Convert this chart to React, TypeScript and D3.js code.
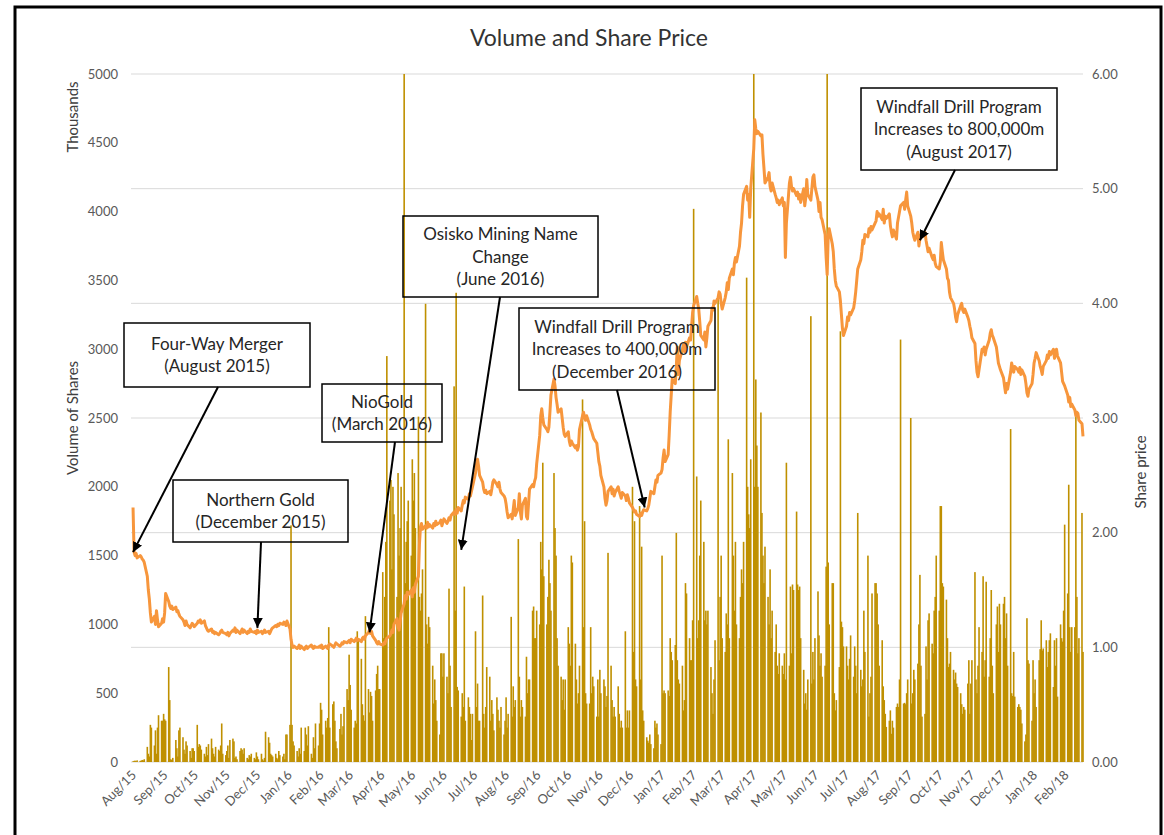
import React, { useEffect, useRef } from 'react';
import * as d3 from 'd3';

// month labels on the date axis (Aug 2015 .. Feb 2018)
const monthLabels = [
  'Aug/15', 'Sep/15', 'Oct/15', 'Nov/15', 'Dec/15',
  'Jan/16', 'Feb/16', 'Mar/16', 'Apr/16', 'May/16', 'Jun/16', 'Jul/16', 'Aug/16', 'Sep/16', 'Oct/16', 'Nov/16', 'Dec/16',
  'Jan/17', 'Feb/17', 'Mar/17', 'Apr/17', 'May/17', 'Jun/17', 'Jul/17', 'Aug/17', 'Sep/17', 'Oct/17', 'Nov/17', 'Dec/17',
  'Jan/18', 'Feb/18',
];

// daily volume (thousands of shares), one row per month, one value per trading day
const volumeK = [
  [5, 8, 10, 6, 12, 8, 10, 15, 12, 20, 110, 60, 40, 270, 250, 120, 230, 60, 250, 340, 300],
  [300, 350, 310, 300, 690, 450, 20, 15, 30, 160, 100, 40, 230, 250, 180, 90, 60, 150, 120, 80, 30, 100],
  [100, 80, 270, 110, 130, 120, 90, 60, 40, 110, 50, 130, 170, 100, 60, 40, 110, 90, 80, 120, 280, 60],
  [50, 80, 120, 30, 160, 170, 150, 30, 40, 20, 80, 100, 90, 60, 100, 30, 20, 50, 40, 60, 30],
  [20, 70, 40, 20, 60, 20, 10, 30, 220, 180, 140, 60, 50, 40, 60, 30, 20, 80, 50, 40, 60, 20, 200],
  [200, 270, 1720, 270, 150, 120, 80, 40, 100, 60, 250, 80, 250, 200, 120, 260, 60, 30, 180, 100, 280],
  [120, 280, 430, 380, 200, 300, 250, 320, 980, 250, 420, 440, 300, 150, 100, 240, 350, 200, 260, 400, 530],
  [450, 780, 560, 380, 250, 300, 280, 950, 900, 750, 420, 340, 300, 1060, 530, 360, 510, 480, 300, 520, 640, 700, 530],
  [530, 1380, 900, 1200, 1600, 2950, 1900, 2050, 1400, 2000, 1800, 1200, 2100, 1500, 1700, 2000, 5200, 1300, 1600, 1750, 1900],
  [1500, 2200, 1900, 2100, 1700, 2510, 1200, 1100, 1225, 1400, 3330, 1000, 860, 1055, 980, 700, 425, 600, 450, 300, 200, 790],
  [790, 620, 790, 620, 500, 1260, 700, 400, 2730, 1100, 3410, 546, 520, 330, 500, 400, 1275, 300, 470, 400, 350, 160],
  [350, 950, 400, 570, 300, 300, 1210, 350, 250, 400, 690, 620, 300, 450, 350, 230, 470, 380, 300, 250, 400],
  [200, 300, 470, 250, 350, 1055, 330, 550, 400, 450, 1620, 620, 330, 450, 400, 330, 765, 500, 600, 600, 1100, 1130, 900],
  [900, 1100, 1000, 1600, 1400, 2175, 1350, 1000, 1200, 1470, 1300, 1100, 2100, 1700, 1500, 900, 700, 620, 450, 600, 380, 600],
  [980, 860, 700, 1500, 1450, 860, 600, 425, 500, 700, 2635, 980, 1750, 500, 425, 425, 980, 500, 620, 550, 330],
  [600, 330, 670, 500, 600, 550, 400, 480, 1520, 700, 450, 330, 400, 330, 550, 350, 250, 300, 250, 950, 250, 375],
  [250, 375, 2000, 800, 1750, 600, 550, 1860, 600, 1565, 375, 300, 180, 155, 140, 200, 130, 100, 300, 250, 280, 200],
  [130, 1500, 500, 520, 500, 520, 480, 900, 800, 740, 850, 1665, 740, 600, 570, 700, 375, 450, 1300, 1225, 900, 740],
  [740, 1030, 4020, 2075, 900, 1030, 1500, 1900, 1600, 1030, 1100, 1000, 1100, 690, 500, 350, 600, 885, 3385, 740],
  [1200, 1500, 900, 800, 1080, 1000, 2345, 900, 2100, 1500, 1100, 1600, 1000, 900, 1200, 1400, 1300, 1600, 3520, 2000, 1800, 1700, 2200],
  [5400, 2000, 2780, 2300, 2000, 2540, 1810, 1500, 1300, 1565, 1200, 1000, 1400, 900, 1100, 800, 1000, 700, 640, 790],
  [700, 640, 790, 600, 2175, 700, 1275, 790, 1290, 1250, 1820, 1290, 1250, 1275, 900, 670, 425, 500, 380, 600, 3240, 570, 800],
  [600, 900, 1240, 920, 700, 790, 620, 700, 1420, 5400, 1450, 1000, 1300, 1300, 500, 375, 450, 690, 3130, 1020, 980, 840],
  [840, 700, 600, 750, 920, 620, 840, 700, 500, 1810, 670, 550, 600, 1100, 800, 1500, 330, 500, 620, 1225, 1300],
  [1300, 1225, 1000, 700, 885, 550, 450, 350, 255, 300, 375, 205, 300, 250, 400, 425, 400, 600, 3070, 425, 430, 420, 500],
  [600, 2500, 425, 500, 670, 600, 715, 1000, 1360, 700, 330, 350, 840, 600, 1030, 1080, 860, 790, 1100, 1200, 1500],
  [1100, 1860, 1860, 1300, 1275, 1180, 900, 690, 715, 800, 670, 600, 650, 570, 545, 500, 420, 350, 400, 380, 570, 740],
  [350, 570, 740, 1380, 600, 500, 700, 980, 800, 1350, 620, 740, 1310, 620, 900, 1250, 700, 500, 1000, 1130, 800, 1150],
  [1000, 1150, 1200, 900, 1080, 700, 2420, 500, 480, 800, 475, 400, 420, 400, 380, 280, 150, 200, 1045, 740, 715],
  [300, 740, 500, 600, 400, 740, 820, 1030, 810, 825, 885, 690, 800, 885, 935, 545, 885, 700, 900, 475, 1000, 900, 875],
  [1100, 1725, 1225, 2015, 980, 800, 980, 980, 2540, 1200, 790, 900, 1810, 800],
];

// daily closing share price ($), same layout as volumeK
const sharePrice = [
  [2.22, 1.83, 1.80, 1.82, 1.78, 1.80, 1.79, 1.77, 1.76, 1.74, 1.62, 1.50, 1.42, 1.30, 1.22, 1.27, 1.20, 1.32, 1.24, 1.18, 1.21],
  [1.25, 1.22, 1.30, 1.47, 1.40, 1.36, 1.34, 1.36, 1.33, 1.35, 1.31, 1.32, 1.29, 1.27, 1.24, 1.22, 1.19, 1.23, 1.20, 1.17, 1.19, 1.21],
  [1.20, 1.18, 1.21, 1.23, 1.22, 1.24, 1.21, 1.23, 1.19, 1.17, 1.15, 1.14, 1.16, 1.13, 1.14, 1.12, 1.13, 1.11, 1.12, 1.14, 1.15, 1.13],
  [1.12, 1.11, 1.13, 1.10, 1.12, 1.15, 1.14, 1.17, 1.13, 1.15, 1.12, 1.14, 1.16, 1.13, 1.15, 1.12, 1.14, 1.13, 1.16, 1.14, 1.13],
  [1.14, 1.12, 1.15, 1.13, 1.14, 1.12, 1.13, 1.15, 1.13, 1.14, 1.12, 1.14, 1.16, 1.17, 1.19, 1.18, 1.20, 1.19, 1.21, 1.20, 1.22, 1.21, 1.19],
  [1.23, 1.16, 1.07, 1.02, 1.00, 1.01, 0.99, 1.00, 1.02, 0.99, 1.01, 0.98, 1.00, 1.01, 0.99, 1.00, 1.02, 1.00, 0.99, 1.01, 1.00],
  [1.00, 1.01, 1.00, 1.02, 0.99, 1.01, 1.00, 0.99, 1.02, 1.03, 1.01, 1.00, 1.02, 1.04, 1.03, 1.01, 1.02, 1.04, 1.03, 1.05, 1.04],
  [1.05, 1.06, 1.04, 1.07, 1.05, 1.06, 1.08, 1.06, 1.07, 1.05, 1.08, 1.09, 1.07, 1.10, 1.13, 1.15, 1.12, 1.14, 1.10, 1.06, 1.04, 1.03, 1.05],
  [1.03, 1.02, 1.04, 1.03, 1.06, 1.08, 1.10, 1.12, 1.15, 1.13, 1.20, 1.25, 1.18, 1.15, 1.22, 1.30, 1.38, 1.45, 1.42, 1.48, 1.46],
  [1.50, 1.44, 1.52, 1.48, 1.55, 1.62, 1.90, 2.05, 2.08, 2.03, 2.06, 2.04, 2.09, 2.05, 2.07, 2.04, 2.08, 2.06, 2.10, 2.07, 2.09, 2.11],
  [2.06, 2.09, 2.12, 2.08, 2.10, 2.13, 2.11, 2.15, 2.18, 2.16, 2.20, 2.17, 2.22, 2.19, 2.24, 2.28, 2.26, 2.31, 2.29, 2.34, 2.32, 2.36],
  [2.40, 2.52, 2.60, 2.64, 2.58, 2.50, 2.44, 2.38, 2.35, 2.37, 2.34, 2.36, 2.33, 2.38, 2.44, 2.46, 2.42, 2.40, 2.44, 2.38, 2.35],
  [2.32, 2.30, 2.25, 2.18, 2.13, 2.16, 2.12, 2.20, 2.28, 2.15, 2.22, 2.34, 2.18, 2.12, 2.24, 2.30, 2.14, 2.12, 2.25, 2.38, 2.42, 2.40, 2.45],
  [2.48, 2.60, 2.85, 3.02, 3.08, 3.00, 2.94, 2.90, 2.88, 2.92, 3.05, 3.20, 3.34, 3.28, 3.18, 3.12, 3.05, 3.08, 3.00, 2.92, 2.86, 2.84],
  [2.88, 2.80, 2.76, 2.80, 2.78, 2.74, 2.76, 2.72, 2.75, 2.90, 3.02, 3.05, 3.00, 2.98, 3.02, 2.94, 2.90, 2.88, 2.85, 2.82, 2.78],
  [2.70, 2.62, 2.58, 2.50, 2.40, 2.30, 2.24, 2.28, 2.36, 2.40, 2.34, 2.38, 2.32, 2.35, 2.40, 2.36, 2.33, 2.30, 2.35, 2.32, 2.28, 2.33],
  [2.30, 2.26, 2.22, 2.20, 2.18, 2.19, 2.16, 2.14, 2.17, 2.15, 2.18, 2.20, 2.19, 2.21, 2.24, 2.30, 2.36, 2.34, 2.40, 2.46, 2.44, 2.50],
  [2.52, 2.55, 2.65, 2.72, 2.62, 2.68, 2.85, 3.05, 3.20, 3.34, 3.30, 3.45, 3.62, 3.38, 3.50, 3.60, 3.64, 3.58, 3.66, 3.62, 3.70, 3.68],
  [3.80, 3.92, 3.98, 4.06, 4.00, 3.95, 3.84, 3.72, 3.68, 3.75, 3.62, 3.70, 3.80, 3.85, 3.96, 3.94, 4.02, 4.00, 4.05, 4.10],
  [4.08, 4.00, 3.95, 4.05, 4.10, 4.18, 4.12, 4.22, 4.30, 4.25, 4.35, 4.40, 4.36, 4.50, 4.62, 4.70, 4.85, 4.95, 5.02, 4.90, 4.95, 4.75, 5.00],
  [5.35, 5.60, 5.52, 5.48, 5.50, 5.46, 5.47, 5.30, 5.18, 5.05, 5.10, 5.14, 5.02, 4.98, 5.05, 4.95, 4.92, 4.88, 4.90, 4.86],
  [4.92, 4.85, 4.88, 4.40, 4.70, 5.05, 5.10, 5.02, 4.98, 5.00, 4.94, 4.97, 4.91, 4.95, 4.88, 5.00, 4.85, 4.92, 5.08, 4.95, 4.90, 5.00, 5.10],
  [5.12, 5.02, 4.90, 4.80, 4.88, 4.75, 4.73, 4.60, 4.40, 4.25, 4.58, 4.65, 4.52, 4.45, 4.30, 4.20, 4.15, 4.10, 4.02, 3.90, 3.78, 3.72],
  [3.80, 3.88, 3.85, 3.92, 3.90, 3.96, 4.02, 4.10, 4.20, 4.30, 4.38, 4.45, 4.55, 4.52, 4.60, 4.58, 4.65, 4.62, 4.67, 4.64, 4.70],
  [4.72, 4.80, 4.76, 4.78, 4.73, 4.82, 4.70, 4.76, 4.74, 4.78, 4.68, 4.62, 4.58, 4.64, 4.56, 4.70, 4.75, 4.80, 4.85, 4.88, 4.82, 4.90, 4.97],
  [4.85, 4.76, 4.70, 4.62, 4.58, 4.55, 4.62, 4.50, 4.56, 4.60, 4.58, 4.62, 4.55, 4.50, 4.45, 4.48, 4.40, 4.38, 4.42, 4.35, 4.32],
  [4.30, 4.36, 4.53, 4.45, 4.38, 4.30, 4.22, 4.20, 4.10, 4.05, 4.00, 3.95, 3.88, 3.84, 3.90, 3.98, 4.00, 3.94, 3.92, 3.95, 3.88, 3.85],
  [3.80, 3.76, 3.70, 3.65, 3.50, 3.40, 3.36, 3.42, 3.60, 3.58, 3.62, 3.55, 3.60, 3.68, 3.74, 3.77, 3.72, 3.70, 3.62, 3.55, 3.48, 3.45],
  [3.42, 3.35, 3.28, 3.22, 3.30, 3.25, 3.40, 3.48, 3.44, 3.40, 3.45, 3.42, 3.40, 3.44, 3.38, 3.42, 3.36, 3.30, 3.22, 3.19, 3.25],
  [3.30, 3.38, 3.48, 3.52, 3.57, 3.50, 3.45, 3.42, 3.38, 3.45, 3.50, 3.55, 3.52, 3.58, 3.55, 3.60, 3.52, 3.57, 3.60, 3.54, 3.48, 3.40, 3.32],
  [3.30, 3.28, 3.20, 3.14, 3.18, 3.10, 3.12, 3.07, 3.02, 3.05, 3.04, 2.98, 2.95, 2.84],
];

const volumeTicks = [0, 500, 1000, 1500, 2000, 2500, 3000, 3500, 4000, 4500, 5000];
const priceTicks = [0, 1, 2, 3, 4, 5, 6];

// callout texts and the date/price each arrow points at
const noteLines = [
  ['Four-Way Merger', '(August 2015)'],
  ['Northern Gold', '(December 2015)'],
  ['NioGold', '(March 2016)'],
  ['Osisko Mining Name', 'Change', '(June 2016)'],
  ['Windfall Drill Program', 'Increases to 400,000m', '(December 2016)'],
  ['Windfall Drill Program', 'Increases to 800,000m', '(August 2017)'],
];
const noteTargets: [Date, number][] = [
  [new Date(2015, 7, 3), 1.83],
  [new Date(2015, 11, 3), 1.17],
  [new Date(2016, 2, 22), 1.13],
  [new Date(2016, 5, 20), 1.85],
  [new Date(2016, 11, 17), 2.22],
  [new Date(2017, 8, 13), 4.55],
];

// box layout [x, y, w, h] and arrow start [x, y]
const noteBoxes = [
  [124, 323, 186, 64],
  [173, 480, 175, 62],
  [322, 384, 120, 58],
  [403, 216, 195, 81],
  [519, 308, 196, 82],
  [861, 88, 196, 82],
];
const noteFrom = [
  [218, 387],
  [261, 542],
  [395, 442],
  [500, 297],
  [617, 390],
  [955, 170],
];

const W = 1164;
const H = 835;

const App = () => {
  const ref = useRef<SVGSVGElement>(null);

  useEffect(() => {
    document.body.style.margin = '0';
    const svg = d3.select(ref.current);
    svg.selectAll('*').remove();

    const left = 131, right = 1083, top = 74, bottom = 762;
    const font = 'Lato, "Open Sans", sans-serif';

    const x = d3.scaleTime().domain([new Date(2015, 7, 1), new Date(2018, 1, 20)]).range([left, right]);
    const yVol = d3.scaleLinear().domain([0, 5000]).range([bottom, top]);
    const yPrice = d3.scaleLinear().domain([0, 6]).range([bottom, top]);

    // trading days: weekdays of each month, from Aug 3 2015 to Feb 20 2018
    const first = new Date(2015, 7, 3);
    const last = new Date(2018, 1, 21);
    const rows: { date: Date; vol: number; price: number }[] = [];
    volumeK.forEach((vals, i) => {
      const m0 = new Date(2015, 7 + i, 1);
      const m1 = new Date(2015, 8 + i, 1);
      const days = d3.timeDay
        .range(m0 < first ? first : m0, m1 > last ? last : m1)
        .filter((d) => d.getDay() !== 0 && d.getDay() !== 6);
      days.forEach((d, j) => {
        if (j < vals.length) rows.push({ date: d, vol: vals[j], price: sharePrice[i][j] });
      });
    });

    svg.append('rect').attr('width', W).attr('height', H).attr('fill', '#fff');
    svg.append('rect')
      .attr('x', 15).attr('y', 7).attr('width', 1146).attr('height', 840)
      .attr('fill', 'none').attr('stroke', '#000').attr('stroke-width', 3);

    const defs = svg.append('defs');
    defs.append('clipPath').attr('id', 'plot')
      .append('rect').attr('x', left - 2).attr('y', top).attr('width', right - left + 4).attr('height', bottom - top);
    defs.append('marker').attr('id', 'head')
      .attr('viewBox', '0 0 10 10').attr('refX', 10).attr('refY', 5)
      .attr('markerWidth', 5).attr('markerHeight', 5).attr('orient', 'auto')
      .append('path').attr('d', 'M0,0 L10,5 L0,10 z').attr('fill', '#000');

    // gridlines follow the share price axis
    svg.append('g').selectAll('line').data(priceTicks).enter().append('line')
      .attr('x1', left).attr('x2', right)
      .attr('y1', (d) => yPrice(d)).attr('y2', (d) => yPrice(d))
      .attr('stroke', '#d9d9d9').attr('stroke-width', 1);

    const plot = svg.append('g').attr('clip-path', 'url(#plot)');
    plot.selectAll('rect').data(rows).enter().append('rect')
      .attr('x', (d) => x(d.date) - 0.8)
      .attr('width', 1.6)
      .attr('y', (d) => yVol(d.vol))
      .attr('height', (d) => bottom - yVol(d.vol))
      .attr('fill', '#bf9000');

    const line = d3.line<{ date: Date; price: number }>()
      .x((d) => x(d.date))
      .y((d) => yPrice(d.price));
    plot.append('path').datum(rows).attr('d', line)
      .attr('fill', 'none').attr('stroke', '#f7963c').attr('stroke-width', 3)
      .attr('stroke-linejoin', 'round');

    // left axis
    svg.append('g').selectAll('text').data(volumeTicks).enter().append('text')
      .attr('x', 118).attr('y', (d) => yVol(d) + 4.5)
      .attr('text-anchor', 'end').attr('font-family', font).attr('font-size', 13).attr('fill', '#595959')
      .text((d) => d);

    // right axis
    svg.append('g').selectAll('text').data(priceTicks).enter().append('text')
      .attr('x', 1092).attr('y', (d) => yPrice(d) + 4.5)
      .attr('text-anchor', 'start').attr('font-family', font).attr('font-size', 13).attr('fill', '#595959')
      .text((d) => d.toFixed(2));

    // month labels
    svg.append('g').selectAll('text').data(monthLabels).enter().append('text')
      .attr('transform', (d, i) => `translate(${x(new Date(2015, 7 + i, 1)) + 6},${776}) rotate(-45)`)
      .attr('text-anchor', 'end').attr('font-family', font).attr('font-size', 13).attr('fill', '#595959')
      .text((d) => d);

    // titles
    svg.append('text').attr('x', 589).attr('y', 46).attr('text-anchor', 'middle')
      .attr('font-family', font).attr('font-size', 23).attr('fill', '#333')
      .text('Volume and Share Price');
    const axisTitle = (tx: number, ty: number, label: string) =>
      svg.append('text').attr('transform', `translate(${tx},${ty}) rotate(-90)`)
        .attr('text-anchor', 'middle').attr('font-family', font).attr('font-size', 15).attr('fill', '#404040')
        .text(label);
    axisTitle(78, 117, 'Thousands');
    axisTitle(78, 418, 'Volume of Shares');
    axisTitle(1146, 472, 'Share price');

    // callouts
    const notes = svg.append('g');
    noteLines.forEach((lines, i) => {
      const [bx, by, bw, bh] = noteBoxes[i];
      notes.append('rect').attr('x', bx).attr('y', by).attr('width', bw).attr('height', bh)
        .attr('fill', 'none').attr('stroke', '#000').attr('stroke-width', 1.5);
      const cy = by + bh / 2;
      lines.forEach((t, k) => {
        notes.append('text')
          .attr('x', bx + bw / 2)
          .attr('y', cy + (k - (lines.length - 1) / 2) * 22.5 + 6)
          .attr('text-anchor', 'middle').attr('font-family', font).attr('font-size', 17).attr('fill', '#262626')
          .text(t);
      });
      const [fx, fy] = noteFrom[i];
      const [td, tp] = noteTargets[i];
      notes.append('line')
        .attr('x1', fx).attr('y1', fy).attr('x2', x(td)).attr('y2', yPrice(tp))
        .attr('stroke', '#000').attr('stroke-width', 2).attr('marker-end', 'url(#head)');
    });
  }, []);

  return (
    <svg ref={ref} width={W} height={H} style={{ position: 'absolute', left: 0, top: 0, display: 'block' }} />
  );
};

export default App;
